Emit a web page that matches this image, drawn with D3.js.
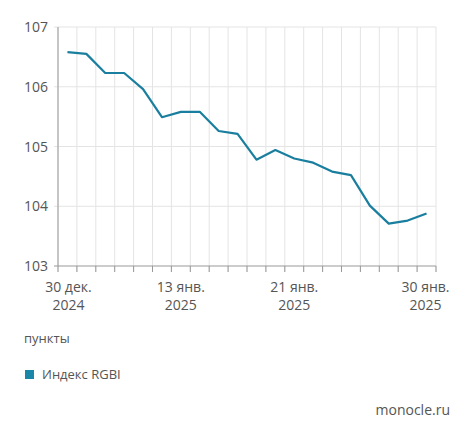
<!DOCTYPE html>
<html><head><meta charset="utf-8">
<script src="https://cdn.jsdelivr.net/npm/d3@7"></script>
<style>body{margin:0;background:#fff;font-family:"Open Sans",sans-serif}</style>
</head><body><svg id="c" width="474" height="439"></svg>
<script>
var dates = ["30.12","31.12","03.01","06.01","08.01","09.01","13.01","14.01","15.01","16.01","17.01","20.01","21.01","22.01","23.01","24.01","27.01","28.01","29.01","30.01"];
var values = [106.58,106.55,106.23,106.23,105.96,105.49,105.58,105.58,105.26,105.21,104.78,104.94,104.80,104.73,104.58,104.52,104.01,103.71,103.76,103.88];
var tickLabels = {"30.12":["30 дек.","2024"],"13.01":["13 янв.","2025"],"21.01":["21 янв.","2025"],"30.01":["30 янв.","2025"]};
var yTicks = [103,104,105,106,107];

var svg = d3.select("#c");
var x = d3.scaleBand().domain(dates).range([58,436]);
var y = d3.scaleLinear().domain([103,107]).range([266,27]);
var grid = "#e4e4e4", axisCol = "#999", txt = "#555";

// vertical grid
var xs = dates.map(function(d){ return x(d); }).concat([436]);
svg.selectAll(".vg").data(xs).enter().append("line")
  .attr("x1",function(d){return d;}).attr("x2",function(d){return d;})
  .attr("y1",27).attr("y2",272).attr("stroke",grid);
svg.selectAll(".vt").data(xs.slice(1)).enter().append("line")
  .attr("x1",function(d){return d;}).attr("x2",function(d){return d;})
  .attr("y1",266).attr("y2",272).attr("stroke",axisCol);
// horizontal grid
svg.selectAll(".hg").data(yTicks).enter().append("line")
  .attr("x1",54).attr("x2",436).attr("y1",function(d){return y(d);}).attr("y2",function(d){return y(d);})
  .attr("stroke",function(d){return d==103?axisCol:grid;});
svg.append("line").attr("x1",58).attr("x2",58).attr("y1",27).attr("y2",272).attr("stroke",axisCol);

svg.selectAll(".yl").data(yTicks).enter().append("text")
  .attr("x",48).attr("y",function(d){return y(d)+5;}).attr("text-anchor","end")
  .attr("font-size",14).attr("fill",txt).text(function(d){return d;});

Object.keys(tickLabels).forEach(function(k){
  var cx = x(k)+x.bandwidth()/2;
  if (k=="30.12") cx += 1;
  if (k=="30.01") cx -= 1;
  [0,1].forEach(function(j){
    svg.append("text").attr("text-anchor","middle").attr("font-size",14).attr("fill",txt)
      .attr("x",cx).attr("y",292+j*18).text(tickLabels[k][j]);
  });
});

var line = d3.line().x(function(d,i){return x(dates[i])+x.bandwidth()/2;}).y(function(d){return y(d);});
svg.append("path").datum(values).attr("d",line).attr("fill","none")
  .attr("stroke","#1a7f9f").attr("stroke-width",2.2).attr("stroke-linejoin","round");

svg.append("text").attr("x",24).attr("y",343).attr("font-size",13).attr("fill",txt).text("пункты");
svg.append("rect").attr("x",25).attr("y",370).attr("width",9).attr("height",9).attr("fill","#1a87a8");
svg.append("text").attr("x",42).attr("y",379).attr("font-size",13).attr("fill",txt).text("Индекс RGBI");
svg.append("text").attr("x",450).attr("y",415).attr("text-anchor","end").attr("font-size",14).attr("fill",txt).text("monocle.ru");
</script></body></html>
